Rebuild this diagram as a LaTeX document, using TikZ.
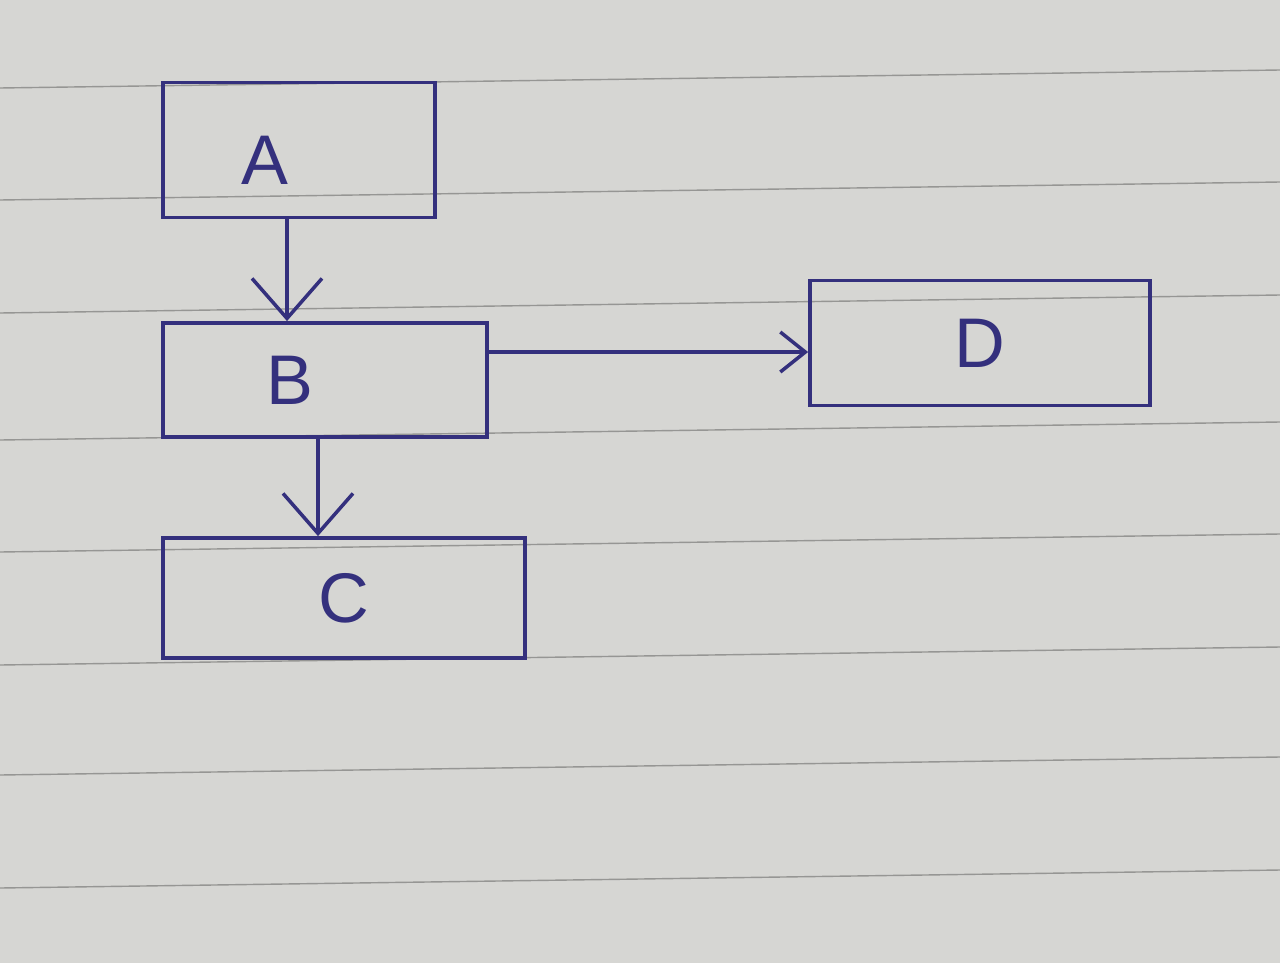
\documentclass[tikz,border=0pt]{standalone}
\usepackage{fontspec}
\setmainfont{Liberation Sans}
\usepackage{tikz}
\usetikzlibrary{arrows.meta, positioning, calc}
\definecolor{ink}{RGB}{52, 48, 125}
\definecolor{paper}{RGB}{214, 214, 211}
\definecolor{rule}{RGB}{150, 150, 148}

\tikzset{
  block/.style={draw=ink, line width=2.2pt, rectangle, inner sep=0pt,
    font=\fontsize{40}{48}\selectfont, text=ink},
  flow/.style={draw=ink, line width=2pt, -{Straight Barb[length=0.8cm, width=1.4cm, line width=2pt]}},
  sideflow/.style={draw=ink, line width=2pt, -{Straight Barb[length=0.5cm, width=0.8cm, line width=2pt]}}
}

\begin{document}
\begin{tikzpicture}[x=0.02cm, y=-0.02cm]
  \useasboundingbox (0,0) rectangle (1280,963);
  \fill[paper] (0,0) rectangle (1280,963);

  % ruled lines of the page
  \foreach \r in {88, 200, 313, 440, 552, 665, 775, 888}
    \draw[rule, line width=0.8pt] (0,\r) -- (1280,\r-18);

  % boxes
  \node[block, minimum width=5.44cm, minimum height=2.7cm,
        label={[ink, font=\fontsize{40}{48}\selectfont, xshift=-0.68cm, yshift=-0.2cm]center:A}]
    (A) at (299,150) {};
  \node[block, minimum width=6.48cm, minimum height=2.28cm,
        label={[ink, font=\fontsize{40}{48}\selectfont, xshift=-0.7cm]center:B}]
    (B) at (325,380) {};
  \node[block, minimum width=7.24cm, minimum height=2.4cm] (C) at (344,598) {C};
  \node[block, minimum width=6.8cm, minimum height=2.5cm] (D) at (980,343) {D};

  % connectors
  \draw[flow] ([xshift=-0.24cm]A.south) -- ([xshift=-0.24cm]A.south |- B.north);
  \draw[flow] ([xshift=-0.14cm]B.south) -- ([xshift=-0.14cm]B.south |- C.north);
  \draw[sideflow] ([yshift=0.56cm]B.east) -- ([yshift=0.56cm]B.east -| D.west);
\end{tikzpicture}
\end{document}
